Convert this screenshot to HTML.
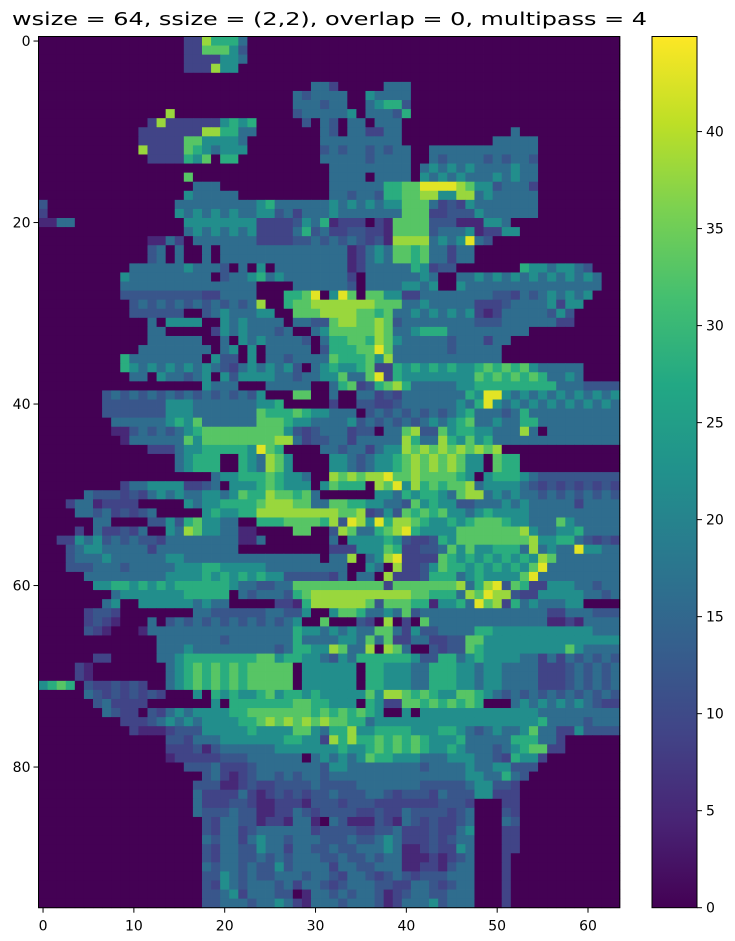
<!DOCTYPE html>
<html><head><meta charset="utf-8"><style>
html,body{margin:0;padding:0;background:#fff;width:735px;height:941px;overflow:hidden}
svg text{font-family:"DejaVu Sans","Liberation Sans",sans-serif;fill:#000}
</style></head><body>
<svg id="chart" width="735" height="941" viewBox="0 0 735 941" xmlns="http://www.w3.org/2000/svg">
<text x="12" y="25" font-size="18" textLength="635" lengthAdjust="spacingAndGlyphs">wsize = 64, ssize = (2,2), overlap = 0, multipass = 4</text>
<defs><linearGradient id="vir" x1="0" y1="1" x2="0" y2="0">
<stop offset="0" stop-color="#440154"/><stop offset="0.1" stop-color="#482475"/><stop offset="0.2" stop-color="#414487"/><stop offset="0.3" stop-color="#355f8d"/><stop offset="0.4" stop-color="#2a788e"/><stop offset="0.5" stop-color="#21918c"/><stop offset="0.6" stop-color="#22a884"/><stop offset="0.7" stop-color="#44bf70"/><stop offset="0.8" stop-color="#7ad151"/><stop offset="0.9" stop-color="#bddf26"/><stop offset="1" stop-color="#fde725"/>
</linearGradient></defs>
<g id="cells"></g>
<rect x="38.5" y="36.5" width="581.3" height="871.2" fill="none" stroke="#000" stroke-width="1"/>
<g id="axes"></g>
<rect x="652" y="36.5" width="45" height="871.2" fill="url(#vir)" stroke="#000" stroke-width="1"/>
<g id="cbaxis"></g>
</svg>
<script>
const levelValues = [0,5,9,12,16,22,28,33,38,43];
const xTicks = [0,10,20,30,40,50,60];
const yTicks = [0,20,40,60,80];
const cbTicks = [0,5,10,15,20,25,30,35,40];
const vmax = 44.9;
const nCols = 64, nRows = 96;
const zoom2top = [[12,"34040040"+"44444444444444"+"12"+"454"+"77"+"6"+"7"+"44"+"2"+"44"]];
const r46 = [[15,"45666"+"00"+"654875"+"0000"+"55434556"+"7878787"+"55"+"0"+"766"]];
const r69 = [[4,"21"],[14,"45"+"67676767"+"7777"+"0"+"555555"+"0"+"6655544666554554444222343434"]];
const rowSegments = [
[[16,"2286664"]],
[[16,"2277753"]],
[[16,"2222554"]],
[[16,"222855"]],
[],
[[30,"442"],[38,"444"]],
[[28,"434444"],[36,"54444"]],
[[28,"444344"],[36,"45663"]],
[[14,"8"],[28,"3444445"],[36,"44436"]],
[[12,"282222225656"],[29,"3"],[31,"43"],[34,"44"],[37,"444"]],
[[11,"2222222886644"],[31,"43"],[34,"442244"],[52,"4"]],
[[11,"222227755554"],[31,"444444444"],[50,"44444"]],
[[11,"822227654555"],[31,"3434434344"],[43,"444444444444"]],
[[12,"2222657066"],[31,"4444434444"],[43,"434444343443"]],
[[32,"444444444"],[42,"4545454444544"]],
[[16,"7"],[32,"444404444"],[42,"5454544454544"]],
[[17,"444"],[32,"444444"+"66"+"77"+"9999"+"8"+"7"+"55"+"3"+"444"+"2"]],
[[16,"544444"],[32,"443443"+"66"+"77"+"88"+"55"+"88"+"4"+"5"+"44444"]],
[[0,"3"],[15,"444444444"+"5"+"6"+"444444"+"5"+"45454"+"55"+"777"+"4"+"2"+"3"+"2"+"5"+"4444444"]],
[[0,"2"],[15,"5454545"+"44"+"55"+"3"+"4"+"2"+"444"+"5"+"44444"+"44"+"777"+"22"+"3"+"33"+"5"+"444444"]],
[[0,"1144"],[16,"55555555"+"2222"+"3"+"5"+"4"+"6"+"1222"+"0"+"2"+"1"+"7777"+"333"+"111"+"55"+"4"]],
[[16,"45454545"+"2222"+"4"+"6"+"3"+"4"+"2233"+"2"+"2"+"1"+"7777"+"3"+"444"+"5"+"1"+"22"+"55"]],
[[12,"1142"+"0"+"4444444"+"2222"+"33434343"+"2"+"3"+"1"+"888"+"8"+"4"+"5"+"4"+"5"+"9"+"4"+"3"]],
zoom2top,
zoom2top,
[[10,"444444"+"5"+"444"+"3"+"0"+"4"+"0"+"5"+"0"+"44444444"+"1"+"2"+"44444"+"6"+"5"+"2"+"3"+"3"],[53,"65545543"]],
[[9,"5"+"444444444"+"0"+"3"+"44"+"5"+"6"+"4"+"5"+"4"+"444444"+"2"+"0"+"44444"+"4"+"5"+"4"+"00"+"4"+"454545454545454"]],
[[9,"4"+"4444444444"+"4444"+"0000"+"444444"+"3"+"0"+"4444"+"5"+"5"+"4"+"5"+"00"+"5"+"444444444444444"]],
[[9,"3"+"33333333"+"22"+"4444"+"000"+"6"+"6"+"7"+"9"+"0"+"5"+"9"+"7"+"0"+"77"+"55"+"22"+"4444"+"4"+"444"+"33"+"2"+"4"+"3"+"454545"]],
[[10,"34343434343434"+"8"+"00"+"6"+"77"+"8"+"888888"+"777"+"4454"+"4444"+"222"+"3"+"4444"+"5"+"2"+"55"]],
[[10,"333333"+"00"+"3"+"4"+"5"+"444"+"55"+"00"+"777"+"8888"+"7767"+"4"+"45454545"+"2"+"1"+"2"+"44444"+"3"+"5"+"3"]],
[[12,"4"+"0"+"5555"+"00"+"5454"+"444"+"0"+"44"+"33"+"7887787"+"3"+"44"+"444444"+"333"+"444444"+"22"]],
[[12,"44"+"00000"+"2"+"54544434"+"00"+"45"+"77777"+"87"+"445666"+"4"+"44444444"]],
[[12,"444444"+"00"+"4"+"0"+"5454"+"444"+"3"+"0"+"4"+"66776875"+"4"+"4444"+"3"+"444"+"2"+"44"]],
[[11,"44444444"+"0"+"45"+"0"+"5"+"0"+"44444"+"0"+"3"+"6667797"+"444444"+"3"+"44444"]],
[[9,"6"+"44444444"+"0"+"533"+"0"+"5"+"0"+"443"+"4444"+"7666758"+"444444444444"]],
[[9,"6"+"54545454"+"5432"+"454545"+"3"+"0"+"4565567226"+"5656565"+"5"+"676767"+"5"+"44444"]],
[[10,"4405443450"+"53"+"5555"+"44344557447926"+"55555555"+"76767676"+"4454"]],
[[18,"5444"+"000"+"44444"+"00"+"467236786"+"44444"+"55"+"666666666"+"444"+"3333"]],
[[7,"34343434343434343"+"5"+"000"+"77"+"00"+"4"+"00"+"44232"+"4444444"+"6599"+"5454545454545"]],
[[7,"3333333"+"555"+"4444444"+"556"+"00000"+"2"+"00"+"33223"+"444444"+"54695"+"4545454545454"]],
[[7,"3333333"+"555"+"4444444"+"76667655444"+"0"+"343434343"+"4564443464"+"444444444"]],
[[8,"444444"+"5657"+"444444"+"777655"+"4444"+"5"+"3434343"+"45456744544664"+"44444444"]],
[[8,"11"+"343434"+"56"+"777777777"+"53234442330447833756655444840"+"44444444"]],
[[9,"1"+"444444"+"75"+"77777777"+"884233442"+"44444"+"86448657564"+"4444444444444"]],
[[12,"222"+"455"+"66666"+"5976"+"0000"+"443442455"+"87878787878"]],
r46,
r46,
[[19,"455666765540087878897"+"7877776"+"5"+"0"+"56665"+"4"+"333333333"]],
[[9,"244"+"5555"+"2234"+"0"+"555676555"+"0"+"57666"+"0"+"879586767784"+"5555"+"43"+"232323232"]],
[[5,"4333232"+"4545"+"44554576687767"+"4"+"000000"+"5546566547884"+"5454"+"4"+"343434343"]],
[[3,"2441"+"2222"+"00000"+"5455"+"6666"+"78887744776655443756553344"+"45454"+"4444"+"2"+"4444"]],
[[4,"4434"+"2323"+"4"+"00000"+"565566"+"888888888"+"778235376767554565555"+"4"+"444444444"]],
[[6,"44"+"0000"+"3353675544"+"00"+"66677776839859688765"+"5656"+"777"+"65544475"+"44444"]],
[[4,"20422324"+"00"+"54875544"+"11"+"0000"+"77"+"00"+"3874467896"+"5555"+"7777777"+"8544556"+"4444"]],
[[2,"22545"+"34343"+"32"+"44444444"+"11"+"4"+"0000000"+"40"+"555565322365"+"77777777"+"8556643232"]],
[[3,"3455"+"44444"+"2"+"444444444"+"0000000000"+"22255576223347575566648454495544"]],
[[3,"3444"+"5"+"444444"+"55"+"444444444444444"+"044804589222276"+"565656565"+"8"+"7"+"4444444"]],
[[3,"333444"+"3"+"44444"+"555"+"66"+"55555"+"444444444"+"005408223576"+"6565656"+"579"+"44444444"]],
[[5,"444444444"+"555"+"565656565"+"5"+"33333"+"24044082223666456"+"5555"+"79"+"444444444"]],
[[6,"556"+"6565656"+"66666"+"5443344"+"7777777777"+"2"+"7777777"+"846893762255544344"]],
[[8,"4"+"5555555"+"66666"+"043444367"+"88888888888"+"77666487988322"+"55555"+"4434"]],
[[7,"4500"+"555555"+"4544"+"00000"+"2216"+"888888"+"737776615564978264544455"]],
[[5,"2332"+"00000000"+"44"+"333333"+"44335"+"00"+"5776445473"+"44444444444444"+"22"+"444"+"333"]],
[[5,"2321"+"000"+"4"+"0"+"34343434343434"+"5"+"00"+"7"+"000"+"32080207"+"4444444444444"+"1121"+"4444"]],
[[5,"321"+"000"+"1"+"4444444444444444"+"6554545447742533"+"4444"+"66"+"55555555555"+"444"]],
[[13,"444444434444444"+"6"+"4444"+"5547472244223377"+"555555555555555"]],
[[13,"4445444444444"+"34"+"665587448087400323376"+"555555555"+"75"+"4444"]],
[[6,"22"+"00000"+"445"+"66666666"+"77566554354"+"666666"+"53366456555544242"+"434343"]],
r69,
r69,
[[0,"5676"],[5,"3223232"],[14,"45"+"67676767"+"7777"+"0"+"555555"+"0"+"6655544666554554444222343434"]],
[[5,"4"+"32323232"+"000"+"5"+"0"+"6565"+"5"+"6"+"7"+"5"+"66"+"5"+"6"+"5"+"5555"+"7"+"5"+"88"+"7"+"6"+"7"+"6"+"55"+"77"+"6"+"5"+"43434343434343"]],
[[6,"34"+"2222"+"0000000"+"50"+"6666666"+"7766"+"555"+"0"+"6522"+"7"+"7676767"+"6"+"000"+"454545454"+"322"]],
[[7,"43220"+"32"+"454"+"5555"+"66"+"7777777"+"6"+"76767"+"65"+"00"+"5"+"0"+"5555555555555"+"444444444"]],
[[9,"2223"+"45454"+"5555"+"66"+"787878787"+"766"+"45"+"55555555555555555"+"6"+"4444"+"3"+"444"]],
[[10,"2111"+"2333"+"55555"+"6"+"5555"+"77546685566665556654345445744225"+"3333"]],
[[14,"332444"+"5555555"+"665528686"+"676767"+"6"+"555"+"6"+"44444"+"666"+"442"]],
[[14,"222313"+"444444"+"5555555"+"655"+"6767676"+"556544434567722"]],
[[14,"122222"+"333"+"444444"+"0"+"454545"+"766"+"555"+"444"+"555"+"44"+"32"+"655"+"2"]],
[[16,"3334"+"222"+"3"+"4444444"+"3"+"55"+"44444444"+"3"+"4444"+"5"+"44"+"55"+"333"]],
[[18,"342123"+"44"+"3434"+"4"+"3"+"444444444444444"+"5544643"]],
[[17,"333112322"+"3333"+"4"+"3333"+"4444444"+"33333"+"455332"]],
[[17,"4222242123"+"2323343334"+"4323332433"+"355222"]],
[[17,"4222332112"+"2213332333"+"2222222333"+"200022"]],
[[17,"4333433112"+"2432333322"+"3224333323"+"400032"]],
[[18,"3244331221"+"4410431113"+"2143232234"+"00043"]],
[[18,"3244234444"+"44"+"2333322334"+"22232245"+"00022"]],
[[18,"4344245443"+"4443334334"+"5422232344"+"00022"]],
[[18,"3244335442"+"4433433444"+"5411232254"+"00022"]],
[[18,"3244334343"+"4443343343"+"4411121234"+"00020"]],
[[18,"4344343353"+"4444244334"+"4411221344"+"00020"]],
[[18,"3354343344"+"4344324432"+"3432333444"+"00020"]],
[[18,"3254344434"+"2443234443"+"3224432344"+"00020"]],
[[18,"3345244433"+"0144343443"+"1234433444"+"00020"]],
[[18,"3344434454"+"2144434443"+"1244453444"+"00020"]]
];
const VIR=["#440154","#482475","#414487","#355f8d","#2a788e","#21918c","#22a884","#44bf70","#7ad151","#bddf26","#fde725"];
function hex(c){return [parseInt(c.slice(1,3),16),parseInt(c.slice(3,5),16),parseInt(c.slice(5,7),16)];}
function cmap(v){let t=Math.max(0,Math.min(1,v/vmax))*10;let i=Math.min(9,Math.floor(t));let f=t-i;
 const a=hex(VIR[i]),b=hex(VIR[i+1]);return "rgb("+a.map((x,k)=>Math.round(x+(b[k]-x)*f)).join(",")+")";}
const X0=38.5,X1=619.8,Y0=36.5,Y1=907.7;
const cw=(X1-X0)/nCols, ch=(Y1-Y0)/nRows;
function xPos(c){return X0+(c+0.5)*cw;}
function yPos(r){return Y0+(r+0.5)*ch;}
function cbY(v){return Y1-v/vmax*(Y1-Y0);}
const NS="http://www.w3.org/2000/svg";
const grid=[];
for(let r=0;r<nRows;r++){const row=new Array(nCols).fill(0);
 (rowSegments[r]||[]).forEach(s=>{for(let k=0;k<s[1].length;k++){const c=s[0]+k;if(c<nCols)row[c]=levelValues[+s[1][k]];}});
 grid.push(row);}
const cells=document.getElementById("cells");
for(let r=0;r<nRows;r++)for(let c=0;c<nCols;c++){
 const el=document.createElementNS(NS,"rect");
 
 
 el.setAttribute("x",(xPos(c)-cw/2).toFixed(2));el.setAttribute("y",(yPos(r)-ch/2).toFixed(2));
 el.setAttribute("width",(cw+0.4).toFixed(2));el.setAttribute("height",(ch+0.4).toFixed(2));
 el.setAttribute("fill",cmap(grid[r][c]));cells.appendChild(el);}
const axes=document.getElementById("axes");
function line(g,x1,y1,x2,y2,name){const l=document.createElementNS(NS,"line");
 
 
 l.setAttribute("x1",x1);l.setAttribute("y1",y1);l.setAttribute("x2",x2);l.setAttribute("y2",y2);l.setAttribute("stroke","#000");g.appendChild(l);}
function text(g,x,y,s,anchor,name){const t=document.createElementNS(NS,"text");
 
 
 t.setAttribute("x",x);t.setAttribute("y",y);t.setAttribute("font-size","14");t.setAttribute("text-anchor",anchor);t.textContent=s;g.appendChild(t);}
xTicks.forEach(v=>{const x=xPos(v);line(axes,x,Y1,x,Y1+5,'x-tick');text(axes,x,Y1+23,String(v),'middle','x-tick-label');});
yTicks.forEach(v=>{const y=yPos(v);line(axes,X0-5,y,X0,y,'y-tick');text(axes,X0-8,y+5,String(v),'end','y-tick-label');});
const cb=document.getElementById("cbaxis");
cbTicks.forEach(v=>{const y=cbY(v);line(cb,697,y,702,y,'colorbar-tick');text(cb,706,y+5,String(v),'start','colorbar-tick-label');});
</script>
</body></html>
